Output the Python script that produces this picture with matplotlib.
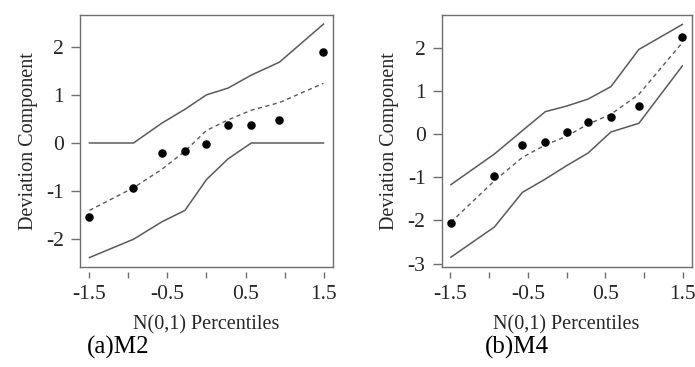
import matplotlib
matplotlib.use("Agg")
import matplotlib.pyplot as plt

plt.rcParams['font.family'] = ['Liberation Serif', 'DejaVu Serif']
plt.rcParams['axes.unicode_minus'] = False

# normal quantiles for the 9 residuals (shared by both panels)
quantiles = [-1.494, -0.932, -0.572, -0.275, 0.0, 0.275, 0.572, 0.932, 1.494]

# panel (a) M2
m2_points = [-1.53, -0.93, -0.21, -0.17, -0.02, 0.37, 0.37, 0.48, 1.90]
m2_median = [-1.40, -0.93, -0.55, -0.17, 0.26, 0.48, 0.68, 0.84, 1.24]
m2_upper = [0.0, 0.0, 0.41, 0.70, 1.00, 1.14, 1.41, 1.68, 2.47]
m2_lower = [-2.38, -2.00, -1.64, -1.40, -0.76, -0.33, 0.0, 0.0, 0.0]

# panel (b) M4
m4_points = [-2.06, -0.98, -0.25, -0.19, 0.06, 0.28, 0.40, 0.64, 2.25]
m4_median = [-2.04, -1.08, -0.54, -0.25, -0.05, 0.23, 0.46, 0.92, 2.12]
m4_upper = [-1.17, -0.46, 0.08, 0.52, 0.65, 0.81, 1.10, 1.96, 2.54]
m4_lower = [-2.85, -2.15, -1.35, -1.04, -0.73, -0.44, 0.05, 0.25, 1.58]

x_ticks = [-1.5, -1.0, -0.5, 0.0, 0.5, 1.0, 1.5]
x_labels = ['-1.5', '', '-0.5', '', '0.5', '', '1.5']

LINE_COL = '#5a5a5a'
BOX_COL = '#6e6e6e'
TXT_COL = '#262626'

fig = plt.figure(figsize=(6.95, 3.67), dpi=100)

panels = [
    ([0.1151, 0.2733, 0.364, 0.686], m2_points, m2_median, m2_upper, m2_lower,
     [-2, -1, 0, 1, 2], (-2.57, 2.66), '(a)M2', 0.170),
    ([0.6353, 0.2733, 0.360, 0.686], m4_points, m4_median, m4_upper, m4_lower,
     [-3, -2, -1, 0, 1, 2], (-3.07, 2.76), '(b)M4', 0.744),
]

for rect, pts, med, up, lo, yt, ylim, caption, cap_x in panels:
    ax = fig.add_axes(rect)
    ax.plot(quantiles, up, color=LINE_COL, lw=1.1)
    ax.plot(quantiles, lo, color=LINE_COL, lw=1.1)
    ax.plot(quantiles, med, color=LINE_COL, lw=1.0, linestyle=(0, (3, 2.5)))
    ax.scatter(quantiles, pts, s=26, color='black', zorder=3)

    ax.set_xlim(-1.615, 1.615)
    ax.set_ylim(*ylim)
    ax.set_xticks(x_ticks)
    ax.set_xticklabels(x_labels)
    ax.set_yticks(yt)
    ax.set_yticklabels([str(v) for v in yt])

    # R style: box around the plot, x ticks hanging below it
    for side in ['left', 'top', 'right']:
        ax.spines[side].set_color(BOX_COL)
        ax.spines[side].set_linewidth(1.0)
    ax.spines['bottom'].set_position(('outward', 4))
    ax.spines['bottom'].set_color('none')
    ax.plot([0, 1], [0, 0], transform=ax.transAxes, color=BOX_COL, lw=1.0, clip_on=False)

    ax.tick_params(axis='x', length=4, width=1.0, color=BOX_COL, pad=5,
                   labelsize=15.5, labelcolor=TXT_COL)
    ax.tick_params(axis='y', length=6.5, width=1.0, color=BOX_COL, pad=5,
                   labelsize=15.5, labelcolor=TXT_COL)

    ax.set_xlabel('N(0,1) Percentiles', fontsize=14.5, color=TXT_COL, labelpad=8)
    ax.set_ylabel('Deviation Component', fontsize=14.5, color=TXT_COL, labelpad=6)

    fig.text(cap_x, 0.053, caption, fontsize=18, color='black', ha='center', va='center')

fig.savefig('out.png', dpi=100)
